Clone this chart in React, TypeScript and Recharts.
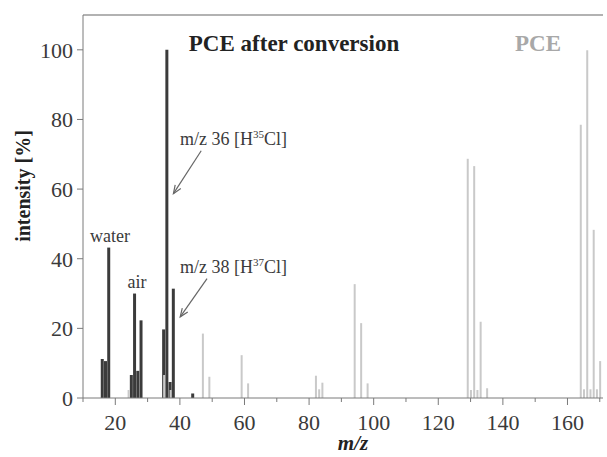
import { Bar, BarChart, ReferenceLine, XAxis, YAxis } from "recharts";

// m/z and relative intensity
const convertedMz = [16, 17, 18, 25, 26, 27, 28, 35, 36, 37, 38, 44];
const convertedIntensity = [11.2, 10.6, 43.2, 6.6, 30, 7.8, 22.3, 19.7, 100, 4.6, 31.4, 1.3];

const pceMz = [
  24, 35, 37, 47, 49, 59, 61, 82, 83, 84, 94, 96, 98, 129, 130, 131, 132, 133, 135, 164, 165,
  166, 167, 168, 169, 170,
];
const pceIntensity = [
  2.3, 6.6, 2.3, 18.5, 6.1, 12.3, 4.2, 6.4, 2.5, 4.4, 32.7, 21.5, 4.2, 68.7, 2.3, 66.6, 2.3, 21.9,
  2.8, 78.5, 2.5, 99.9, 2.5, 48.3, 2.5, 10.6,
];

const xTicks = [10, 20, 30, 40, 50, 60, 70, 80, 90, 100, 110, 120, 130, 140, 150, 160, 170];
const yTicks = [0, 20, 40, 60, 80, 100];

const allMz = Array.from(new Set([...convertedMz, ...pceMz])).sort((a, b) => a - b);
const data = allMz.map((mz) => {
  const i = convertedMz.indexOf(mz);
  const j = pceMz.indexOf(mz);
  return {
    mz,
    converted: i >= 0 ? convertedIntensity[i] : null,
    pce: j >= 0 ? pceIntensity[j] : null,
  };
});

const FONT = "'Liberation Serif', 'Times New Roman', serif";
const AXIS = "#7a7a7a";
const TEXT = "#3a3a3a";
const DARK = "#3b3b3b";
const LIGHT = "#c9c9c9";

const TICK_SIZE = 7;
const TICK_MARGIN = 9;

function XTick(props: any) {
  const { x, y, payload } = props;
  const major = payload.value % 20 === 0;
  const y0 = y - TICK_SIZE - TICK_MARGIN; // axis line
  return (
    <g>
      <line x1={x} x2={x} y1={y0} y2={y0 + (major ? TICK_SIZE : 4)} stroke={AXIS} />
      {major && (
        <text
          x={x}
          y={y}
          dy="0.71em"
          textAnchor="middle"
          fontSize={22}
          fill={TEXT}
          style={{ fontFamily: FONT }}
        >
          {payload.value}
        </text>
      )}
    </g>
  );
}

function Arrow(props: any) {
  const { x1, y1, x2, y2 } = props;
  const a = Math.atan2(y2 - y1, x2 - x1);
  const len = 9;
  const spread = 0.38;
  const p1 = [x2 - len * Math.cos(a - spread), y2 - len * Math.sin(a - spread)];
  const p2 = [x2 - len * Math.cos(a + spread), y2 - len * Math.sin(a + spread)];
  return (
    <g stroke="#666" strokeWidth={1.2} fill="none">
      <line x1={x1} y1={y1} x2={x2} y2={y2} />
      <polyline points={`${p1[0]},${p1[1]} ${x2},${y2} ${p2[0]},${p2[1]}`} />
    </g>
  );
}

export default function App() {
  return (
    <div style={{ position: "absolute", left: 0, top: 0, background: "#fff" }}>
      <BarChart
        width={607}
        height={457}
        data={data}
        margin={{ top: 15, right: 4, bottom: 0, left: 0 }}
        barGap={0}
        style={{ fontFamily: FONT }}
      >
        <XAxis
          xAxisId="main"
          dataKey="mz"
          type="number"
          domain={[10, 171]}
          ticks={xTicks}
          interval={0}
          allowDataOverflow
          height={59}
          stroke={AXIS}
          tickLine={false}
          tickSize={TICK_SIZE}
          tickMargin={TICK_MARGIN}
          tick={<XTick />}
        />
        <XAxis xAxisId="pce" dataKey="mz" type="number" domain={[10, 171]} allowDataOverflow hide />
        <YAxis
          domain={[0, 110]}
          ticks={yTicks}
          interval={0}
          width={83}
          stroke={AXIS}
          tickSize={6}
          tickMargin={4}
          tick={{ fontSize: 22, fill: TEXT, fontFamily: FONT }}
        />
        <ReferenceLine xAxisId="main" y={110} stroke="#999" strokeWidth={1.5} />
        <Bar xAxisId="main" dataKey="converted" fill={DARK} barSize={3} isAnimationActive={false} />
        <Bar xAxisId="pce" dataKey="pce" fill={LIGHT} barSize={2} isAnimationActive={false} />
        <ReferenceLine
          xAxisId="main"
          segment={[
            { x: 46.6, y: 71 },
            { x: 38, y: 58.7 },
          ]}
          shape={<Arrow />}
        />
        <ReferenceLine
          xAxisId="main"
          segment={[
            { x: 48.4, y: 34.3 },
            { x: 40.1, y: 23.3 },
          ]}
          shape={<Arrow />}
        />
        <g style={{ fontFamily: FONT }}>
          <text x={294} y={51} textAnchor="middle" fontSize={23} fontWeight="bold" fill="#222">
            PCE after conversion
          </text>
          <text x={538} y={51} textAnchor="middle" fontSize={23} fontWeight="bold" fill="#a8a8a8">
            PCE
          </text>
          <text x={110} y={242} textAnchor="middle" fontSize={18} fill={TEXT}>
            water
          </text>
          <text x={137} y={288} textAnchor="middle" fontSize={18} fill={TEXT}>
            air
          </text>
          <text x={180} y={145} fontSize={18} fill={TEXT}>
            m/z 36 [H<tspan dy={-7} fontSize={11}>35</tspan>
            <tspan dy={7}>Cl]</tspan>
          </text>
          <text x={180} y={273} fontSize={18} fill={TEXT}>
            m/z 38 [H<tspan dy={-7} fontSize={11}>37</tspan>
            <tspan dy={7}>Cl]</tspan>
          </text>
          <text
            x={0}
            y={0}
            transform="translate(30 186) rotate(-90)"
            textAnchor="middle"
            fontSize={20}
            fontWeight="bold"
            fill="#222"
          >
            intensity [%]
          </text>
          <text x={353} y={450} textAnchor="middle" fontSize={21} fontWeight="bold" fontStyle="italic" fill="#222">
            m/z
          </text>
        </g>
      </BarChart>
    </div>
  );
}
